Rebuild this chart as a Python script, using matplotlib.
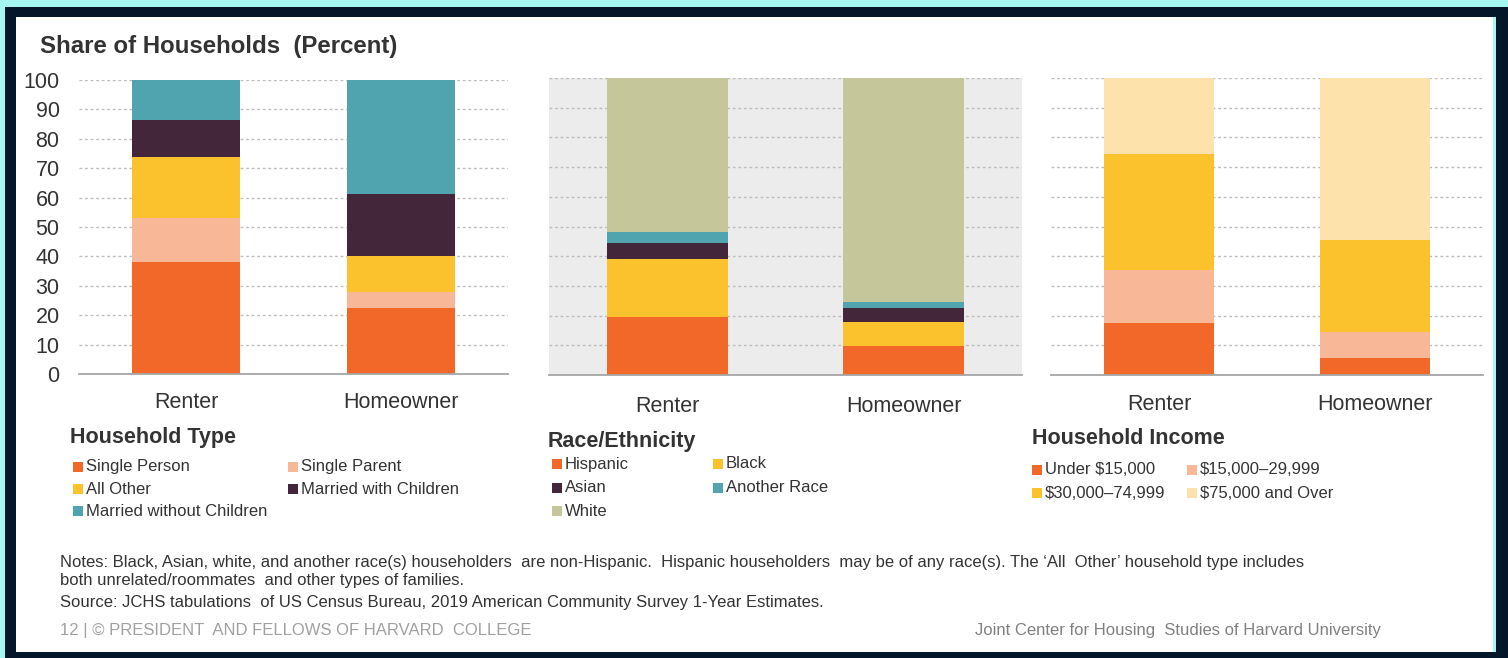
import matplotlib
matplotlib.use('Agg')
import matplotlib.pyplot as plt
from matplotlib.patches import Rectangle
import numpy as np

# ---------------- data ----------------
tenure = ['Renter', 'Homeowner']

type_labels = ['Single Person', 'Single Parent', 'All Other',
               'Married with Children', 'Married without Children']
type_renter = [38.0, 15.2, 20.5, 12.7, 13.6]
type_owner = [22.6, 5.3, 12.4, 21.0, 38.7]

race_labels = ['Hispanic', 'Black', 'Asian', 'Another Race', 'White']
race_renter = [19.5, 19.7, 5.3, 3.7, 51.8]
race_owner = [9.8, 8.1, 4.5, 2.3, 75.3]

income_labels = ['Under $15,000', '$15,000\u201329,999',
                 '$30,000\u201374,999', '$75,000 and Over']
income_renter = [17.5, 17.9, 38.9, 25.7]
income_owner = [5.6, 8.9, 30.9, 54.6]

yticks = [0, 10, 20, 30, 40, 50, 60, 70, 80, 90, 100]

# ---------------- style ----------------
ORANGE = '#f26829'
PEACH = '#f8b898'
YELLOW = '#fcc22e'
PLUM = '#43263a'
TEAL = '#4fa4b0'
SAGE = '#c5c69a'
LIGHT = '#fde2ab'

type_colors = [ORANGE, PEACH, YELLOW, PLUM, TEAL]
race_colors = [ORANGE, YELLOW, PLUM, TEAL, SAGE]
income_colors = [ORANGE, PEACH, YELLOW, LIGHT]

plt.rcParams['font.family'] = ['Liberation Sans', 'DejaVu Sans']
TXT = '#333333'

W, H = 1508, 658
fig = plt.figure(figsize=(W / 100, H / 100), dpi=100)
fig.patch.set_facecolor('#a6f6f2')


def px_rect(x0, y0, x1, y1, color, z=0):
    fig.patches.append(Rectangle((x0 / W, 1 - y1 / H), (x1 - x0) / W, (y1 - y0) / H,
                                 transform=fig.transFigure, facecolor=color,
                                 edgecolor='none', zorder=z))


# frame
px_rect(5, 7, W, H, '#03162a', z=-3)
px_rect(1493, 17, 1496, 652, '#a6f6f2', z=-2)
px_rect(16, 17, 1493, 652, 'white', z=-2)


def add_ax(x0, y0, x1, y1):
    return fig.add_axes([x0 / W, 1 - y1 / H, (x1 - x0) / W, (y1 - y0) / H])


def stacked(ax, renter, owner, colors, bg, width, labelpad):
    ax.set_facecolor(bg)
    x = np.arange(len(tenure))
    vals = np.array([renter, owner])  # shape (2, nseries)
    bottoms = np.zeros(2)
    for i, c in enumerate(colors):
        ax.bar(x, vals[:, i], bottom=bottoms, width=width, color=c,
               edgecolor='none', zorder=3)
        bottoms += vals[:, i]
    ax.set_xlim(-0.5, 1.5)
    ax.set_ylim(0, 100)
    ax.set_yticks(yticks)
    ax.set_xticks(x)
    ax.set_xticklabels(tenure, fontsize=15.5, color=TXT)
    ax.tick_params(axis='x', length=0, pad=labelpad)
    ax.tick_params(axis='y', length=0)
    for s in ['top', 'left', 'right']:
        ax.spines[s].set_visible(False)
    ax.spines['bottom'].set_color('#a6a6a6')
    ax.spines['bottom'].set_linewidth(1.3)
    ax.spines['bottom'].set_zorder(4)
    ax.grid(axis='y', color='#bdbdbd', linestyle=(0, (2, 2)), linewidth=1.0, zorder=1)
    ax.set_axisbelow(True)


ax1 = add_ax(79, 80, 508, 374)
stacked(ax1, type_renter, type_owner, type_colors, 'none', 0.505, 13)
ax1.set_yticklabels([str(v) for v in yticks], fontsize=15.5, color=TXT)
ax1.tick_params(axis='y', pad=14)

ax2 = add_ax(549, 78, 1022, 375)
stacked(ax2, race_renter, race_owner, race_colors, '#ececec', 0.51, 15)
ax2.set_yticklabels([])

ax3 = add_ax(1051, 78, 1483, 375)
stacked(ax3, income_renter, income_owner, income_colors, 'none', 0.505, 14)
ax3.set_yticklabels([])

# title
fig.text(40 / W, 1 - 47 / H, 'Share of Households  (Percent)', fontsize=17.3,
         fontweight='bold', color=TXT, ha='left', va='center')


def legend_block(title, tx, ty, labels, colors, sq_x, col2_x, row_y, order):
    fig.text(tx / W, 1 - ty / H, title, fontsize=15.5, fontweight='bold',
             color=TXT, ha='left', va='center')
    for k, idx in enumerate(order):
        r, c = divmod(k, 2)
        x = sq_x if c == 0 else col2_x
        y = row_y[r]
        px_rect(x, y - 5, x + 10, y + 5, colors[idx], z=5)
        fig.text((x + 13) / W, 1 - y / H, labels[idx], fontsize=12, color=TXT,
                 ha='left', va='center')


legend_block('Household Type', 70, 438, type_labels, type_colors,
             73, 288, [467, 489, 511], range(len(type_labels)))
legend_block('Race/Ethnicity', 548, 441, race_labels, race_colors,
             552, 713, [464, 488, 511], range(len(race_labels)))
legend_block('Household Income', 1032, 438, income_labels, income_colors,
             1032, 1187, [470, 493], range(len(income_labels)))

# notes
NARROW = ['Liberation Sans Narrow', 'Liberation Sans', 'DejaVu Sans']
notes = [
    (562, "Notes: Black, Asian, white, and another race(s) householders  are non-Hispanic.  Hispanic householders  may be of any race(s). The \u2018All  Other\u2019 household type includes"),
    (581, "both unrelated/roommates  and other types of families."),
    (603, "Source: JCHS tabulations  of US Census Bureau, 2019 American Community Survey 1-Year Estimates."),
]
for y, t in notes:
    fig.text(60 / W, 1 - y / H, t, fontsize=12, family=NARROW, color=TXT,
             ha='left', va='center')

fig.text(60 / W, 1 - 631 / H, '12 | \u00a9 PRESIDENT  AND FELLOWS OF HARVARD  COLLEGE',
         fontsize=12, family=NARROW, color='#a0a0a0', ha='left', va='center')
fig.text(975 / W, 1 - 631 / H, 'Joint Center for Housing  Studies of Harvard University',
         fontsize=12, family=NARROW, color='#808080', ha='left', va='center')

fig.savefig('out.png', dpi=100, facecolor=fig.get_facecolor())
